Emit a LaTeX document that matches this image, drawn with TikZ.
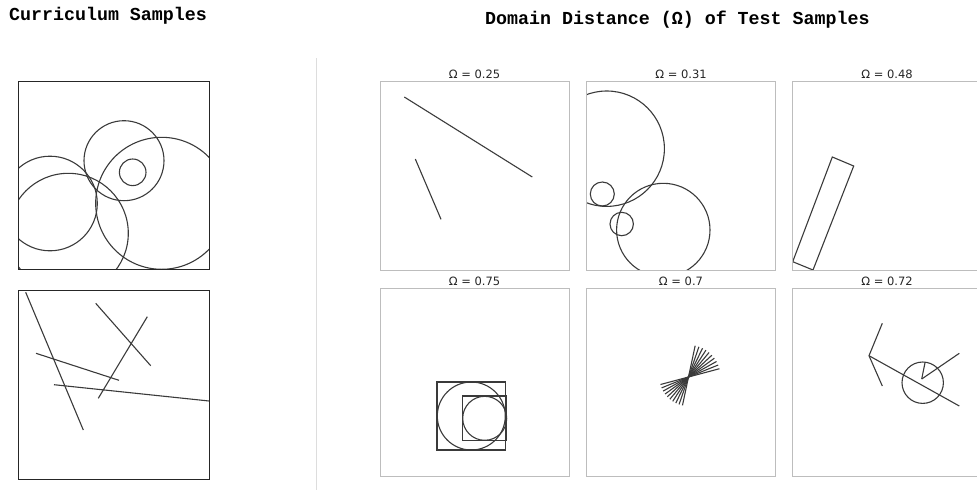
\documentclass[tikz,border=0pt]{standalone}
\usepackage{fontspec}
\newfontfamily\titlefont{Liberation Mono}
\newfontfamily\labelfont{DejaVu Sans}
\definecolor{shapegray}{HTML}{3A3A3A}
\definecolor{framegray}{HTML}{BDBDBD}
\definecolor{dividergray}{HTML}{DDDDDD}
\begin{document}
\begin{tikzpicture}[x=1pt,y=-1pt,
  shp/.style={draw=shapegray,line width=1.1pt},
  blackframe/.style={draw=black!85,line width=1pt},
  grayframe/.style={draw=framegray,line width=1pt},
  titletext/.style={inner sep=0pt,font=\titlefont\bfseries\fontsize{18.3}{20}\selectfont},
  paneltext/.style={inner sep=0pt,anchor=base,font=\labelfont\fontsize{11.5}{13}\selectfont,text=black!85}]
\useasboundingbox (0,0) rectangle (977,493);

% titles
\node[titletext,anchor=base west] (t1) at (9,20.7) {Curriculum Samples};
\node[titletext,anchor=base west] (t2) at (485,24) {Domain Distance (Ω) of Test Samples};

% divider
\draw[dividergray,line width=0.8pt] (316,58) -- (316,490);

% ---------- curriculum sample 1 (circles)
\begin{scope}
  \clip (18,81) rectangle (209,269);
  \draw[shp] (124,160.7) circle[radius=40pt];
  \draw[shp] (132.7,172.3) circle[radius=13.3pt];
  \draw[shp] (161.7,203.3) circle[radius=66pt];
  \draw[shp] (50,203.5) circle[radius=47.3pt];
  \draw[shp] (68.3,233.3) circle[radius=60pt];
\end{scope}
\draw[blackframe] (18,81) rectangle (209,269);

% ---------- curriculum sample 2 (lines)
\begin{scope}
  \clip (18,290) rectangle (209,479);
  \draw[shp] (25.7,292.3) -- (83.3,430);
  \draw[shp] (95.7,303.3) -- (150.7,365.7);
  \draw[shp] (147.3,316.7) -- (98.3,398.3);
  \draw[shp] (36,353.3) -- (119,380.3);
  \draw[shp] (54,384.7) -- (212,401.3);
\end{scope}
\draw[blackframe] (18,290) rectangle (209,479);

% ---------- test panels, top row
\node[paneltext] (l1) at (474.5,78.3) {Ω = 0.25};
\node[paneltext] (l2) at (681,78.3) {Ω = 0.31};
\node[paneltext] (l3) at (887,78.3) {Ω = 0.48};

\begin{scope}
  \clip (380,81.7) rectangle (569.3,270);
  \draw[shp] (404.3,97) -- (532.3,177);
  \draw[shp] (415.3,159) -- (441,219.3);
\end{scope}
\draw[grayframe] (380,81.7) rectangle (569.3,270);

\begin{scope}
  \clip (586.7,81.7) rectangle (775.3,270);
  \draw[shp] (606.7,148.7) circle[radius=57.7pt];
  \draw[shp] (602.3,194) circle[radius=12pt];
  \draw[shp] (663.3,230) circle[radius=46.7pt];
  \draw[shp] (621.7,224) circle[radius=11.7pt];
\end{scope}
\draw[grayframe] (586.7,81.7) rectangle (775.3,270);

\begin{scope}
  \clip (792.7,81.7) rectangle (981.3,270);
  \draw[shp] (832.3,157) -- (853.7,166) -- (813,270) -- (792.7,261.7) -- cycle;
\end{scope}
\draw[grayframe] (792.7,81.7) rectangle (981.3,270);

% ---------- test panels, bottom row
\node[paneltext] (l4) at (474.5,285) {Ω = 0.75};
\node[paneltext] (l5) at (681,285) {Ω = 0.7};
\node[paneltext] (l6) at (887,285) {Ω = 0.72};

\begin{scope}
  \clip (380,288.3) rectangle (569.3,476.7);
  \draw[shp] (437,382) rectangle (505.7,450);
  \draw[shp] (471.3,416) circle[radius=34pt];
  \draw[shp] (462.7,396) rectangle (506.7,440.7);
  \draw[shp] (484.7,418.3) circle[radius=22pt];
\end{scope}
\draw[grayframe] (380,288.3) rectangle (569.3,476.7);

\begin{scope}
  \clip (586.7,288.3) rectangle (775.3,476.7);
  \foreach \a in {15,22,...,80}
    \draw[shp] (688.5,377) ++({-29*cos(\a)},{29*sin(\a)}) -- ++({61*cos(\a)},{-61*sin(\a)});
\end{scope}
\draw[grayframe] (586.7,288.3) rectangle (775.3,476.7);

\begin{scope}
  \clip (792.7,288.3) rectangle (981.3,476.7);
  \draw[shp] (882.3,323.3) -- (869,355.7) -- (882.3,386);
  \draw[shp] (869,355.7) -- (959.3,406);
  \draw[shp] (922.7,382.7) circle[radius=20.7pt];
  \draw[shp] (921.7,379) -- (959.3,353.3);
  \draw[shp] (921.7,379) -- (925,362.7);
\end{scope}
\draw[grayframe] (792.7,288.3) rectangle (981.3,476.7);
\end{tikzpicture}
\end{document}
